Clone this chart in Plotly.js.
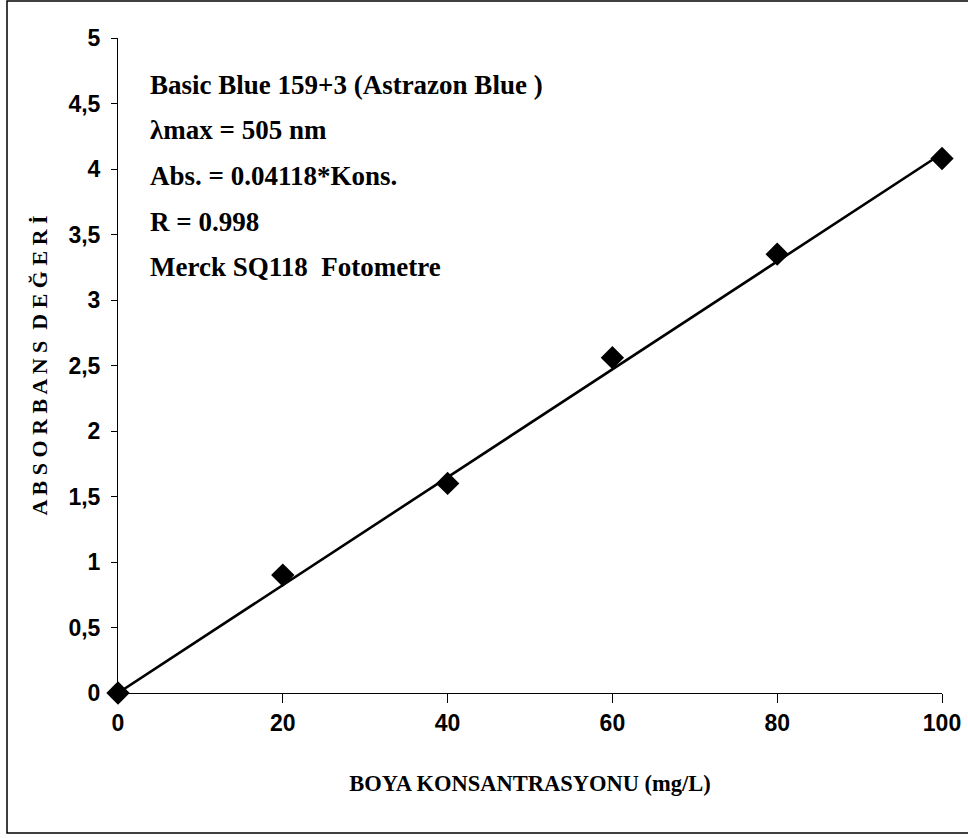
<!DOCTYPE html>
<html>
<head>
<meta charset="utf-8">
<script src="https://cdn.plot.ly/plotly-3.0.1.min.js"></script>
<style>html,body{margin:0;padding:0;background:#fff;}#chart{width:968px;height:838px;}</style>
</head>
<body>
<div id="chart"></div>
<script>
const concentrations = [0, 20, 40, 60, 80, 100];
const absorbance = [0, 0.90, 1.60, 2.56, 3.35, 4.08];
const fitX = [0, 100];
const fitY = [0, 4.118];
const yTickVals = [0, 0.5, 1, 1.5, 2, 2.5, 3, 3.5, 4, 4.5, 5];
const yTickText = ["0", "0,5", "1", "1,5", "2", "2,5", "3", "3,5", "4", "4,5", "5"];
const xTickVals = [0, 20, 40, 60, 80, 100];
const xTickText = ["0", "20", "40", "60", "80", "100"];
const infoLines = [
  "Basic Blue 159+3 (Astrazon Blue )",
  "λmax = 505 nm",
  "Abs. = 0.04118*Kons.",
  "R = 0.998",
  "Merck SQ118  Fotometre"
];
const xTitle = "BOYA KONSANTRASYONU (mg/L)";
const yTitle = "A B S O R B A N S  D E Ğ E R İ";

const tickFont = {family: "'Liberation Sans', Arial, sans-serif", size: 23, color: "#000", weight: "bold"};
const serifFont = {family: "'Liberation Serif', 'Times New Roman', serif", color: "#000", weight: "bold"};

const W = 968, H = 838;
const m = {l: 118, r: 26, t: 38, b: 145};
const pw = W - m.l - m.r, ph = H - m.t - m.b;
const px = v => (v - m.l) / pw;
const py = v => (H - m.b - v) / ph;

const traces = [
  {x: fitX, y: fitY, mode: "lines", line: {color: "#000", width: 2.6}, hoverinfo: "skip", showlegend: false},
  {x: concentrations, y: absorbance, mode: "markers", marker: {symbol: "diamond", size: 18, color: "#000"}, showlegend: false, cliponaxis: false}
];

const annotations = infoLines.map((t, i) => ({
  text: t, xref: "paper", yref: "paper", x: px(148), y: py(85 + i * 45.5),
  xanchor: "left", yanchor: "middle", showarrow: false,
  font: Object.assign({size: 27}, serifFont)
}));

const layout = {
  width: W, height: H,
  margin: m,
  paper_bgcolor: "#fff", plot_bgcolor: "#fff",
  showlegend: false,
  xaxis: {
    range: [0, 100], tickvals: xTickVals, ticktext: xTickText,
    showgrid: false, zeroline: false, showline: true, linecolor: "#000", linewidth: 1,
    ticks: "outside", ticklen: 9, tickcolor: "#000", tickwidth: 1,
    tickfont: tickFont,
    title: {text: xTitle, font: Object.assign({size: 22.5}, serifFont), standoff: 40}
  },
  yaxis: {
    range: [0, 5], tickvals: yTickVals, ticktext: yTickText,
    showgrid: false, zeroline: false, showline: true, linecolor: "#000", linewidth: 1,
    ticks: "outside", ticklen: 6, tickcolor: "#000", tickwidth: 1,
    ticklabelstandoff: 6,
    tickfont: tickFont,
    title: {text: yTitle, font: Object.assign({size: 22}, serifFont), standoff: 14}
  },
  annotations: annotations,
  shapes: [{
    type: "rect", xref: "paper", yref: "paper",
    x0: px(7), x1: px(975), y0: py(833), y1: py(1),
    line: {color: "#000", width: 1.5}, fillcolor: "rgba(0,0,0,0)", layer: "below"
  }]
};

Plotly.newPlot("chart", traces, layout, {displayModeBar: false, staticPlot: true});
</script>
</body>
</html>
